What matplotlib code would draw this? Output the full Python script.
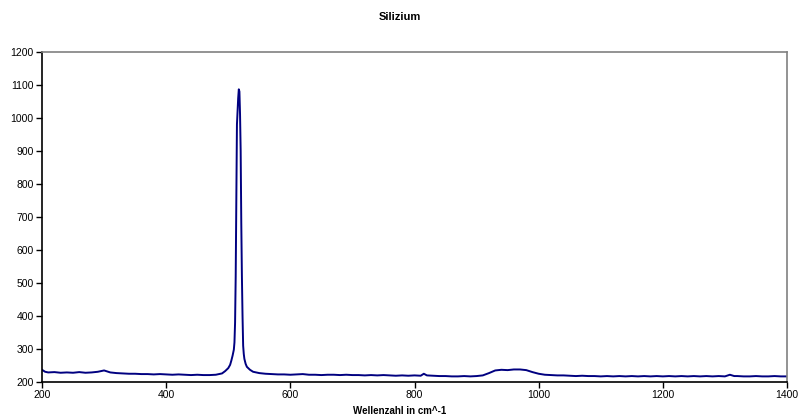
import matplotlib
matplotlib.use("Agg")
import matplotlib.pyplot as plt
from matplotlib.ticker import MultipleLocator

plt.rcParams['font.family'] = ['Liberation Sans', 'DejaVu Sans']

title = "Silizium"
xlabel = "Wellenzahl in cm^-1"

wavenumber = [
    200, 205, 210, 220, 230, 240, 250, 260, 270, 280, 290, 300, 310, 320, 330, 340,
    350, 360, 370, 380, 390, 400, 410, 420, 430, 440, 450, 460, 470, 480, 490, 495,
    500, 503, 505, 507, 509, 510, 511, 512, 513, 514, 515, 516, 517, 518, 519, 520,
    521, 522, 523, 524, 525, 526, 528, 530, 535, 540, 550, 560, 570, 580, 590, 600,
    610, 620, 630, 640, 650, 660, 670, 680, 690, 700, 710, 720, 730, 740, 750, 760,
    770, 780, 790, 800, 810, 815, 820, 830, 840, 850, 860, 870, 880, 890, 900, 910,
    920, 930, 940, 950, 960, 970, 980, 990, 1000, 1010, 1020, 1030, 1040, 1050, 1060,
    1070, 1080, 1090, 1100, 1110, 1120, 1130, 1140, 1150, 1160, 1170, 1180, 1190,
    1200, 1210, 1220, 1230, 1240, 1250, 1260, 1270, 1280, 1290, 1300, 1308, 1315,
    1320, 1330, 1340, 1350, 1360, 1370, 1380, 1390, 1400,
]

intensity = [
    237, 231, 229, 230, 228, 229, 228, 230, 228, 229, 231, 235, 229, 227, 226, 225,
    225, 224, 224, 223, 224, 223, 222, 223, 222, 221, 222, 221, 221, 222, 226, 233,
    242, 252, 265, 280, 298, 320, 380, 520, 760, 980, 1020, 1060, 1087, 1080, 1010, 900,
    680, 520, 400, 310, 285, 270, 255, 246, 237, 231, 227, 225, 224, 223, 223, 222,
    223, 224, 222, 222, 221, 222, 222, 221, 222, 221, 221, 220, 221, 220, 221, 220,
    219, 220, 219, 220, 219, 225, 220, 219, 218, 218, 217, 217, 218, 217, 218, 220,
    227, 235, 237, 236, 238, 238, 236, 230, 225, 222, 221, 220, 220, 219, 218,
    219, 218, 218, 217, 218, 217, 218, 217, 218, 217, 218, 217, 218,
    217, 218, 217, 218, 217, 218, 217, 218, 217, 218, 217, 222, 218,
    218, 217, 217, 218, 217, 217, 218, 217, 217,
]

fig = plt.figure(figsize=(7.99, 4.2), dpi=100)
ax = fig.add_axes([42/799, 1-382/420, (787-42)/799, (382-52)/420])
ax.plot(wavenumber, intensity, color='#000080', linewidth=1.4)

ax.set_xlim(200, 1400)
ax.set_ylim(200, 1200)
ax.xaxis.set_major_locator(MultipleLocator(200))
ax.yaxis.set_major_locator(MultipleLocator(100))

for side in ['top', 'right']:
    ax.spines[side].set_color('#808080')
    ax.spines[side].set_linewidth(1.2)
for side in ['left', 'bottom']:
    ax.spines[side].set_color('black')
    ax.spines[side].set_linewidth(1.2)

ax.tick_params(axis='both', direction='out', length=4, width=1, labelsize=7.5, pad=2)

fig.text(0.5, 1-17/420, title, ha='center', va='center', fontsize=8, fontweight='bold')
fig.text(0.5, 1-411/420, xlabel, ha='center', va='center', fontsize=7, fontweight='bold')

fig.savefig('out.png', dpi=100)
